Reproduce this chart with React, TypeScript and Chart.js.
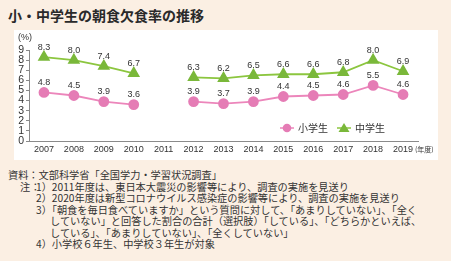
import React, { useEffect, useRef } from "react";
import { Chart, registerables } from "chart.js";

Chart.register(...registerables);

const years = ["2007", "2008", "2009", "2010", "2011", "2012", "2013", "2014", "2015", "2016", "2017", "2018", "2019"];
const elementary: (number | null)[] = [4.8, 4.5, 3.9, 3.6, null, 3.9, 3.7, 3.9, 4.4, 4.5, 4.6, 5.5, 4.6];
const junior: (number | null)[] = [8.3, 8.0, 7.4, 6.7, null, 6.3, 6.2, 6.5, 6.6, 6.6, 6.8, 8.0, 6.9];
const seriesNames = ["小学生", "中学生"];
const yMin = 0;
const yMax = 9;
const yUnit = "(%)";
const xUnit = "(年度)";
const title = "小・中学生の朝食欠食率の推移";
const source = "資料：文部科学省「全国学力・学習状況調査」";
const noteHead = "注：";
const notes = [
  { mark: "1）", text: "2011年度は、東日本大震災の影響等により、調査の実施を見送り" },
  { mark: "2）", text: "2020年度は新型コロナウイルス感染症の影響等により、調査の実施を見送り" },
  { mark: "3）", text: "「朝食を毎日食べていますか」という質問に対して、「あまりしていない」、「全く" },
  { mark: "", text: "していない」と回答した割合の合計（選択肢）「している」、「どちらかといえば、" },
  { mark: "", text: "している」、「あまりしていない」、「全くしていない」" },
  { mark: "4）", text: "小学校６年生、中学校３年生が対象" },
];

const PINK_LINE = "#ec86bb";
const PINK_PT = "#e57cb5";
const GREEN_LINE = "#8cc63f";
const GREEN_PT = "#7ab83a";
const TEXT = "#333333";
const JP = "'Noto Sans CJK JP', sans-serif";

const extrasPlugin = {
  id: "extras",
  afterDatasetsDraw(chart: any) {
    const { ctx, chartArea } = chart;
    ctx.save();
    // data labels
    ctx.font = "9px 'Liberation Sans', Arial, sans-serif";
    ctx.fillStyle = TEXT;
    ctx.textAlign = "center";
    ctx.textBaseline = "middle";
    chart.data.datasets.forEach((ds: any, i: number) => {
      const meta = chart.getDatasetMeta(i);
      meta.data.forEach((pt: any, j: number) => {
        const v = ds.data[j];
        if (v === null || v === undefined) return;
        ctx.fillText(v.toFixed(1), pt.x, pt.y - 10);
      });
    });
    // unit labels
    ctx.font = "9px 'Liberation Sans', Arial, sans-serif";
    ctx.textAlign = "left";
    ctx.fillText(yUnit, 4, chartArea.top - 12);
    ctx.font = `7px ${JP}`;
    ctx.fillText(xUnit, chartArea.right - 3, chartArea.bottom + 8);
    // legend
    const ly = chartArea.bottom - 13;
    let lx = 266;
    const items = [
      { name: seriesNames[0], line: PINK_LINE, pt: PINK_PT, style: "circle" },
      { name: seriesNames[1], line: GREEN_LINE, pt: GREEN_PT, style: "triangle" },
    ];
    ctx.font = `10px ${JP}`;
    items.forEach((it) => {
      ctx.strokeStyle = it.line;
      ctx.lineWidth = 1.5;
      ctx.beginPath();
      ctx.moveTo(lx, ly);
      ctx.lineTo(lx + 14, ly);
      ctx.stroke();
      ctx.fillStyle = it.pt;
      ctx.beginPath();
      if (it.style === "circle") {
        ctx.arc(lx + 7, ly, 4.3, 0, Math.PI * 2);
      } else {
        ctx.moveTo(lx + 7, ly - 5);
        ctx.lineTo(lx + 12.5, ly + 4);
        ctx.lineTo(lx + 1.5, ly + 4);
        ctx.closePath();
      }
      ctx.fill();
      ctx.fillStyle = TEXT;
      ctx.textAlign = "left";
      ctx.fillText(it.name, lx + 18, ly + 0.5);
      lx += 57;
    });
    ctx.restore();
  },
};

function ChartBox() {
  const ref = useRef<HTMLCanvasElement | null>(null);
  useEffect(() => {
    if (!ref.current) return;
    const chart = new Chart(ref.current, {
      type: "line",
      data: {
        labels: years,
        datasets: [
          {
            label: seriesNames[0],
            data: elementary,
            borderColor: PINK_LINE,
            backgroundColor: PINK_PT,
            pointBackgroundColor: PINK_PT,
            pointBorderColor: PINK_PT,
            pointStyle: "circle",
            pointRadius: 4.5,
            borderWidth: 1.8,
            spanGaps: false,
          },
          {
            label: seriesNames[1],
            data: junior,
            borderColor: GREEN_LINE,
            backgroundColor: GREEN_PT,
            pointBackgroundColor: GREEN_PT,
            pointBorderColor: GREEN_PT,
            pointStyle: "triangle",
            pointRadius: 5.5,
            borderWidth: 1.8,
            spanGaps: false,
          },
        ],
      },
      options: {
        responsive: false,
        animation: false,
        devicePixelRatio: 1,
        layout: { padding: { top: 20, right: 20, left: 0, bottom: 0 } },
        plugins: { legend: { display: false }, tooltip: { enabled: false } },
        scales: {
          x: {
            type: "category",
            offset: true,
            grid: { display: false, drawTicks: false },
            border: { display: true, color: "#8a8a8a", width: 1 },
            ticks: {
              color: TEXT,
              font: { family: "'Liberation Sans Narrow', 'Liberation Sans', sans-serif", size: 9 },
              padding: 3,
              maxRotation: 0,
              autoSkip: false,
            },
            afterFit: (s: any) => {
              s.height = 19;
            },
          },
          y: {
            min: yMin,
            max: yMax,
            grid: { display: true, drawOnChartArea: false, drawTicks: true, tickLength: 3, color: "#8a8a8a" },
            border: { display: true, color: "#8a8a8a", width: 1 },
            ticks: {
              stepSize: 1,
              autoSkip: false,
              color: TEXT,
              font: { family: "'Liberation Sans', Arial, sans-serif", size: 10.5 },
              padding: 2,
            },
            afterFit: (s: any) => {
              s.width = 15;
            },
          },
        },
      },
      plugins: [extrasPlugin],
    } as any);
    return () => chart.destroy();
  }, []);
  return (
    <canvas
      ref={ref}
      width={424}
      height={130}
      style={{ position: "absolute", left: 14, top: 30, width: 424, height: 130, background: "#ffffff" }}
    />
  );
}

export default function App() {
  const noteStyle: React.CSSProperties = {
    position: "absolute",
    fontFamily: JP,
    fontSize: 10.2,
    color: TEXT,
    whiteSpace: "nowrap",
    lineHeight: "12px",
  };
  return (
    <div
      style={{
        position: "fixed",
        left: 0,
        top: 0,
        width: 451,
        height: 261,
        background: "#fbefe3",
        overflow: "hidden",
      }}
    >
      <div
        style={{
          position: "absolute",
          left: 8,
          top: 6,
          fontFamily: JP,
          fontSize: 14,
          fontWeight: 700,
          color: "#2a2a2a",
          whiteSpace: "nowrap",
          lineHeight: "18px",
        }}
      >
        {title}
      </div>
      <ChartBox />
      <div style={{ ...noteStyle, left: 8, top: 169 }}>{source}</div>
      <div style={{ ...noteStyle, left: 20, top: 181 }}>{noteHead}</div>
      {notes.map((n, i) => (
        <div key={i} style={{ ...noteStyle, left: n.mark ? 36 : 50, top: 181 + i * 11.4 }}>
          {n.mark}
          {n.text}
        </div>
      ))}
    </div>
  );
}
